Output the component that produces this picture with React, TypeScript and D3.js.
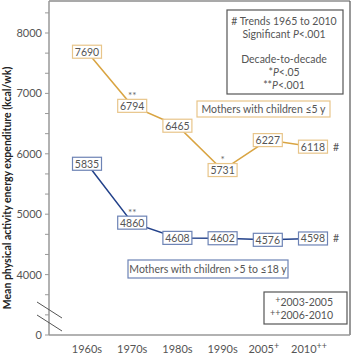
import React from "react";
import * as d3 from "d3";

const decades = ["1960s", "1970s", "1980s", "1990s", "2005", "2010"];
const decadeMarks = ["", "", "", "", "+", "++"];
const youngValues = [7690, 6794, 6465, 5731, 6227, 6118];
const olderValues = [5835, 4860, 4608, 4602, 4576, 4598];
const youngSig = ["", "**", "", "*", "", ""];
const olderSig = ["", "**", "", "", "", ""];
const majorTicks = [4000, 5000, 6000, 7000, 8000];

const W = 352;
const H = 355;
const AX_L = 49;
const AX_R = 350;
const AX_T = 1;
const AX_B = 335;
const FONT = "Lato, 'Open Sans', sans-serif";
const TXT = "#555";
const ORANGE = "#d9a441";
const ORANGE_BOX = "#e8c58a";
const BLUE = "#22418a";
const BLUE_BOX = "#6d83b5";

const x = d3.scalePoint<string>().domain(decades).range([87, 313]);
// broken axis: bottom of the drawn scale is labelled 0
const y = d3.scaleLinear().domain([3000, 8000]).range([AX_B, 33]);
const minorTicks = d3.range(3000, 8500, 1000 / 3);

function Series({ values, sig, line, box }: { values: number[]; sig: string[]; line: string; box: string }) {
  const path = d3
    .line<number>()
    .x((_, i) => x(decades[i]) as number)
    .y((d) => y(d))(values);
  return (
    <g>
      <path d={path || ""} fill="none" stroke={line} strokeWidth={1.5} />
      {values.map((v, i) => {
        const cx = x(decades[i]) as number;
        const cy = y(v);
        return (
          <g key={i}>
            <rect x={cx - 14.5} y={cy - 6.5} width={29} height={13} fill="#fff" stroke={box} strokeWidth={1.2} />
            <text x={cx} y={cy + 4} textAnchor="middle" fontSize={10.5} fill={TXT}>
              {v}
            </text>
            {sig[i] && (
              <text x={cx} y={cy - 7} textAnchor="middle" fontSize={10} fill="#666">
                {sig[i]}
              </text>
            )}
          </g>
        );
      })}
      <text x={AX_R - 14} y={y(values[values.length - 1]) + 4} textAnchor="middle" fontSize={10.5} fill={TXT}>
        #
      </text>
    </g>
  );
}

export default function App() {
  return (
    <svg
      width={W}
      height={H}
      style={{ position: "absolute", left: 0, top: 0, background: "#fff" }}
      fontFamily={FONT}
    >
      {/* frame */}
      <line x1={AX_L} x2={AX_R} y1={AX_T} y2={AX_T} stroke="#555" strokeWidth={1.2} />
      <line x1={AX_R} x2={AX_R} y1={AX_T} y2={AX_B} stroke="#555" strokeWidth={1.2} />
      <line x1={AX_L} x2={AX_L} y1={AX_T} y2={AX_B} stroke="#999" strokeWidth={1.5} />
      <line x1={AX_L} x2={AX_R} y1={AX_B} y2={AX_B} stroke="#999" strokeWidth={1.5} />

      {/* y ticks */}
      {minorTicks.map((t, i) => (
        <line key={i} x1={AX_L - 4} x2={AX_L} y1={y(t)} y2={y(t)} stroke="#999" strokeWidth={1} />
      ))}
      {majorTicks.map((t) => (
        <text key={t} x={AX_L - 7} y={y(t) + 4} textAnchor="end" fontSize={11} fill={TXT}>
          {t}
        </text>
      ))}
      <text x={AX_L - 7} y={AX_B + 4} textAnchor="end" fontSize={11} fill={TXT}>
        0
      </text>

      {/* axis break */}
      <line x1={37} y1={302} x2={62} y2={318} stroke="#555" strokeWidth={1} />
      <line x1={37} y1={315} x2={62} y2={331} stroke="#555" strokeWidth={1} />

      {/* x labels */}
      {decades.map((d, i) => (
        <text key={d} x={(x(d) as number) - (decadeMarks[i] ? 4 : 0)} y={353} textAnchor="middle" fontSize={11} fill={TXT}>
          {d}
          {decadeMarks[i] && (
            <tspan fontSize={9} dy={-4}>
              {decadeMarks[i]}
            </tspan>
          )}
        </text>
      ))}

      {/* y title */}
      <text
        transform={`translate(11,${188}) rotate(-90)`}
        textAnchor="middle"
        fontSize={10.5}
        fontWeight="bold"
        fill="#222"
      >
        Mean physical activity energy expenditure (kcal/wk)
      </text>

      <Series values={youngValues} sig={youngSig} line={ORANGE} box={ORANGE_BOX} />
      <Series values={olderValues} sig={olderSig} line={BLUE} box={BLUE_BOX} />

      {/* legend top right */}
      <rect x={227} y={10} width={116} height={84} fill="#fff" stroke="#555" strokeWidth={1.2} />
      <g fontSize={10.5} fill={TXT} textAnchor="middle">
        <text x={284} y={25}># Trends 1965 to 2010</text>
        <text x={284} y={38}>
          Significant <tspan fontStyle="italic">P</tspan>&lt;.001
        </text>
        <text x={284} y={63}>Decade-to-decade</text>
        <text x={284} y={76}>
          *<tspan fontStyle="italic">P</tspan>&lt;.05
        </text>
        <text x={284} y={89}>
          **<tspan fontStyle="italic">P</tspan>&lt;.001
        </text>
      </g>

      {/* series labels */}
      <rect x={197} y={101} width={133} height={16} fill="#fff" stroke={ORANGE_BOX} strokeWidth={1.2} />
      <text x={263.5} y={113} textAnchor="middle" fontSize={10.5} fill={TXT}>
        Mothers with children ≤5 y
      </text>
      <rect x={128} y={260} width={160} height={18} fill="#fff" stroke={BLUE_BOX} strokeWidth={1.2} />
      <text x={208} y={273} textAnchor="middle" fontSize={10.5} fill={TXT}>
        Mothers with children &gt;5 to ≤18 y
      </text>

      {/* period note */}
      <rect x={264} y={292} width={83} height={32} fill="#fff" stroke="#555" strokeWidth={1.2} />
      <g fontSize={10.5} fill={TXT} textAnchor="end">
        <text x={333} y={306}>
          <tspan fontSize={9} dy={-3}>+</tspan>
          <tspan dy={3}>2003-2005</tspan>
        </text>
        <text x={333} y={319}>
          <tspan fontSize={9} dy={-3}>++</tspan>
          <tspan dy={3}>2006-2010</tspan>
        </text>
      </g>
    </svg>
  );
}
